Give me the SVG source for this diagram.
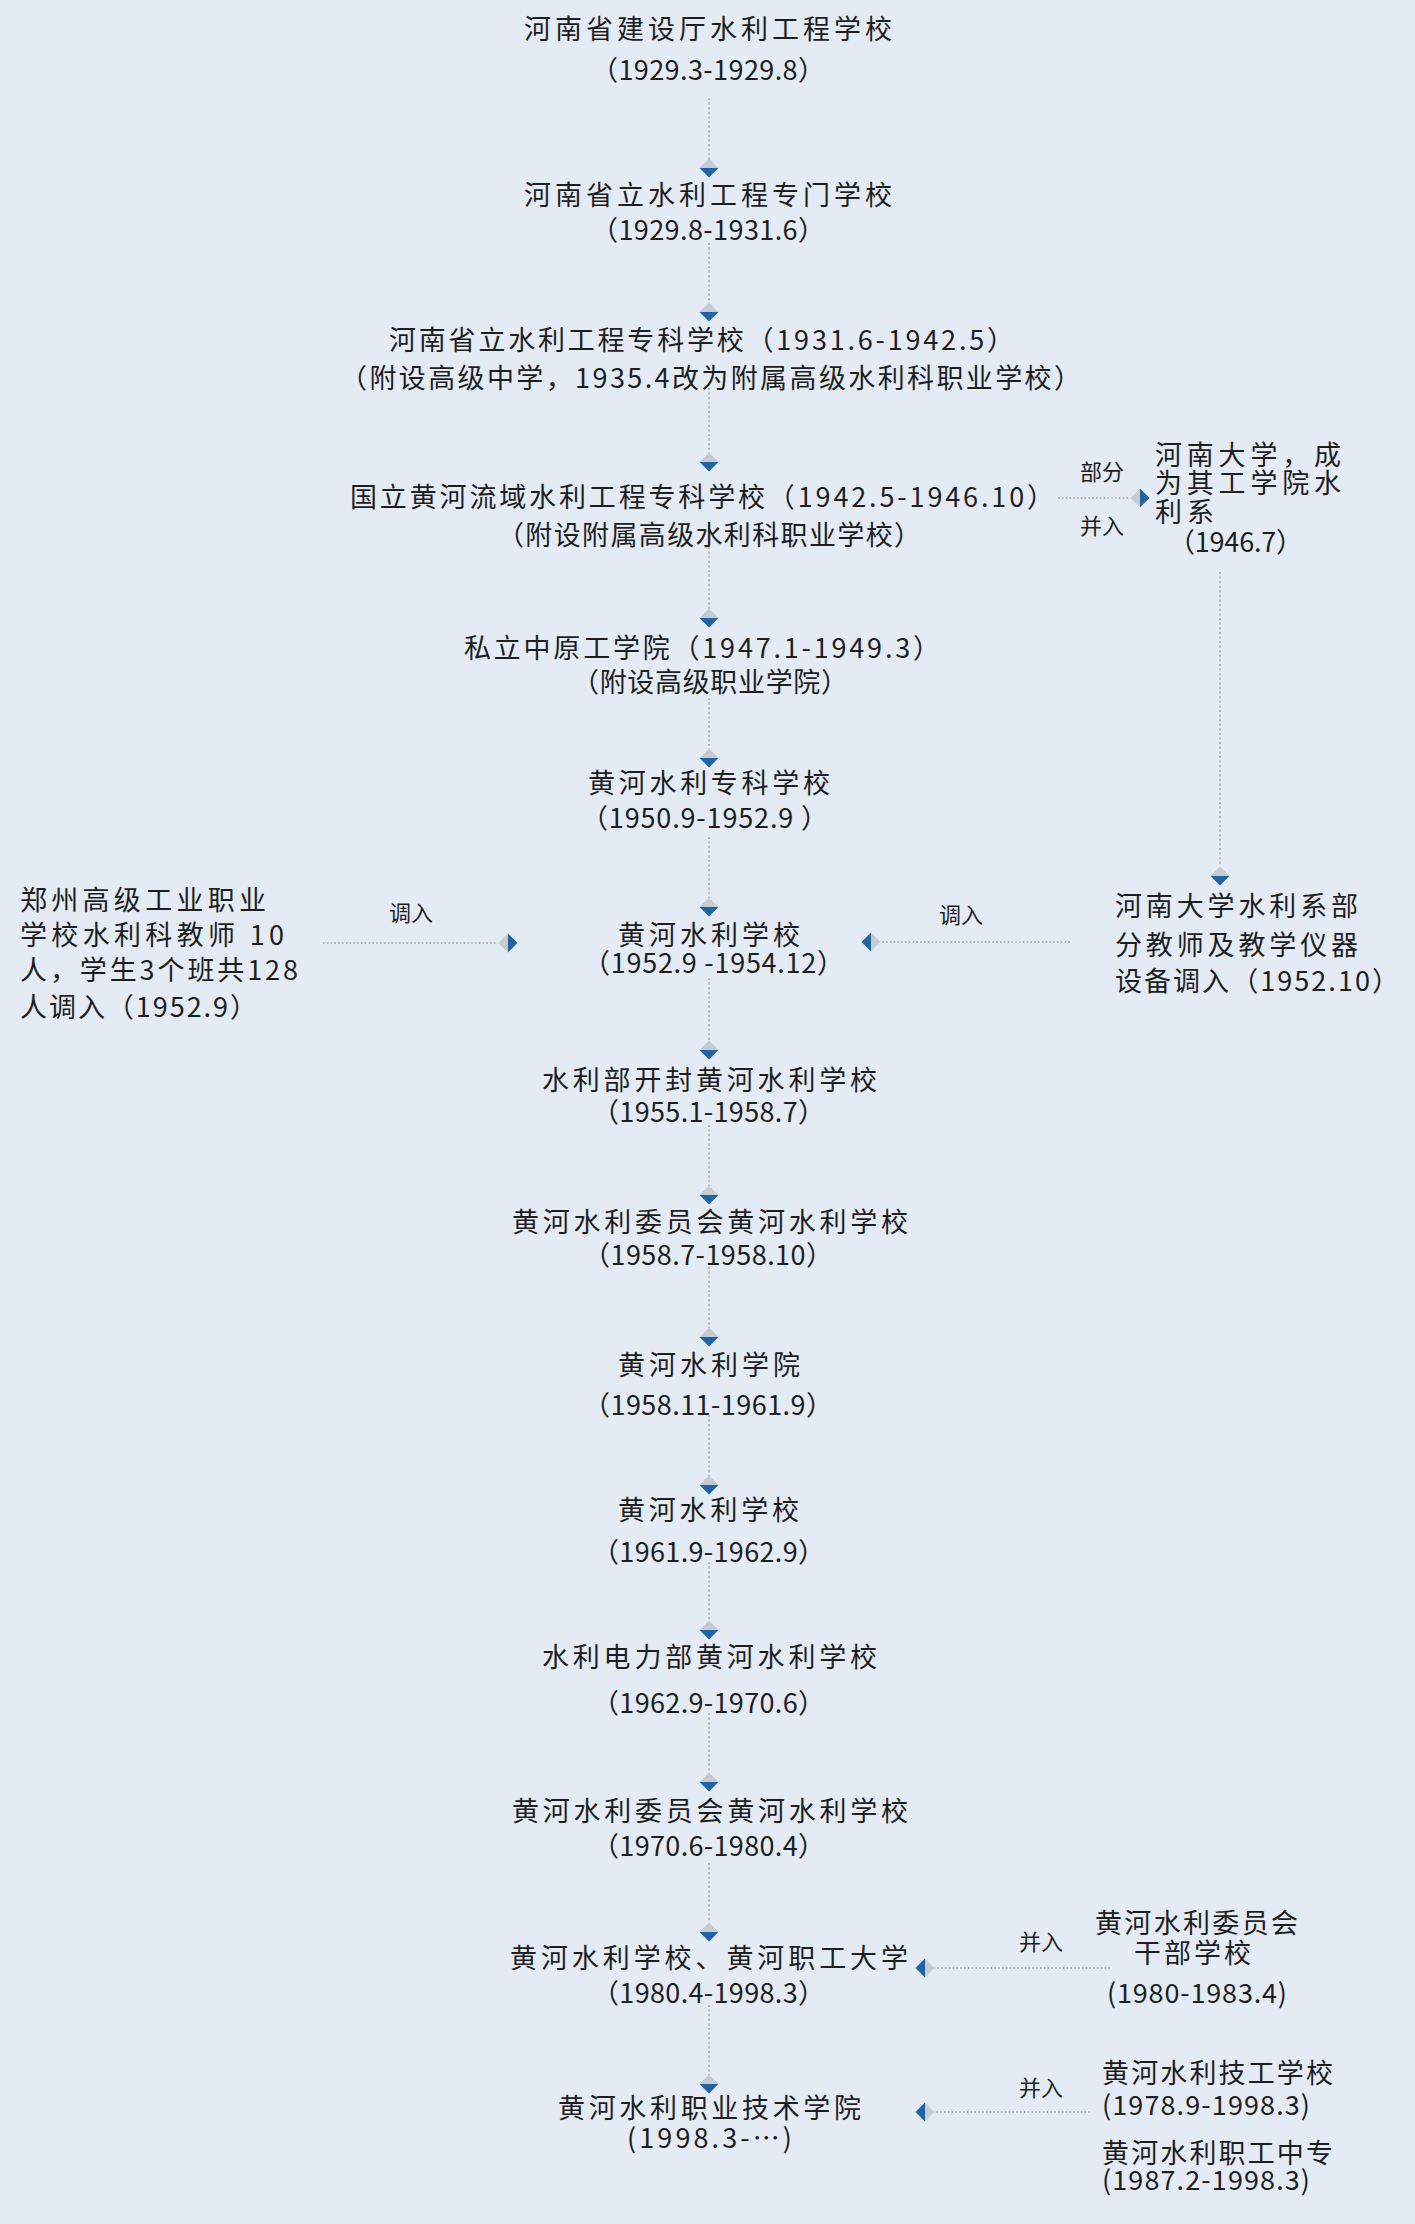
<svg xmlns="http://www.w3.org/2000/svg" xmlns:xlink="http://www.w3.org/1999/xlink" width="1415" height="2224" viewBox="0 0 1415 2224">
<style>
.t{font-family:"Noto Sans CJK SC","Noto Sans",sans-serif;font-size:27px;fill:#1e1e1e;}
.l{font-family:"Noto Sans CJK SC","Noto Sans",sans-serif;font-size:22px;fill:#1e1e1e;text-anchor:middle;}
.v{stroke:#98a1ab;stroke-width:1.4;stroke-dasharray:2 2.6;fill:none;}
.h{stroke:#98a1ab;stroke-width:1.4;stroke-dasharray:1.6 2.2;fill:none;}
</style>
<defs>
<g id="dd">
<polygon points="0,-9.5 9.5,0 -9.5,0" fill="#c5cbd2"/>
<polygon points="-9.5,0 9.5,0 0,9.5" fill="#2064a4"/>
</g>
</defs>
<rect x="0" y="0" width="1415" height="2224" fill="#e4ebf5"/>

<g id="connectors">
<path class="v" d="M709 98V159M709 243V303M709 388V453M709 547V609M709 698V749M709 837V898M709 978V1041M709 1125V1186M709 1267V1328M709 1415V1476M709 1562V1621M709 1713V1773M709 1863V1923M709 2005V2075"/>
<path class="v" d="M1220 572V866"/>
<path class="h" d="M1058 498H1130M323 943H498M1070 942H881M1110 1968H935M1090 2112H935"/>
<use xlink:href="#dd" transform="translate(709,168)"/>
<use xlink:href="#dd" transform="translate(709,312)"/>
<use xlink:href="#dd" transform="translate(709,462)"/>
<use xlink:href="#dd" transform="translate(709,618)"/>
<use xlink:href="#dd" transform="translate(709,758)"/>
<use xlink:href="#dd" transform="translate(709,907)"/>
<use xlink:href="#dd" transform="translate(709,1050)"/>
<use xlink:href="#dd" transform="translate(709,1195)"/>
<use xlink:href="#dd" transform="translate(709,1337)"/>
<use xlink:href="#dd" transform="translate(709,1485)"/>
<use xlink:href="#dd" transform="translate(709,1630)"/>
<use xlink:href="#dd" transform="translate(709,1782)"/>
<use xlink:href="#dd" transform="translate(709,1932)"/>
<use xlink:href="#dd" transform="translate(709,2084)"/>
<use xlink:href="#dd" transform="translate(1220,876)"/>
<use xlink:href="#dd" transform="translate(1140,498) rotate(-90)"/>
<use xlink:href="#dd" transform="translate(508,943) rotate(-90)"/>
<use xlink:href="#dd" transform="translate(871,942) rotate(90)"/>
<use xlink:href="#dd" transform="translate(925,1968) rotate(90)"/>
<use xlink:href="#dd" transform="translate(925,2112) rotate(90)"/>
<text class="l" x="1102" y="480">部分</text>
<text class="l" x="1102" y="534">并入</text>
<text class="l" x="411" y="921">调入</text>
<text class="l" x="961" y="923">调入</text>
<text class="l" x="1041" y="1950">并入</text>
<text class="l" x="1041" y="2096">并入</text>
</g>

<g id="n1">
<text class="t" x="524" y="39" textLength="368" lengthAdjust="spacing">河南省建设厅水利工程学校</text>
<text class="t" x="591" y="80" textLength="234" lengthAdjust="spacing">（1929.3-1929.8）</text>
</g>
<g id="n2">
<text class="t" x="524" y="205" textLength="368" lengthAdjust="spacing">河南省立水利工程专门学校</text>
<text class="t" x="591" y="240" textLength="234" lengthAdjust="spacing">（1929.8-1931.6）</text>
</g>
<g id="n3">
<text class="t" x="389" y="350" textLength="625" lengthAdjust="spacing">河南省立水利工程专科学校（1931.6-1942.5）</text>
<text class="t" x="340" y="388" textLength="741" lengthAdjust="spacing">（附设高级中学，1935.4改为附属高级水利科职业学校）</text>
</g>
<g id="n4">
<text class="t" x="350" y="507" textLength="704" lengthAdjust="spacing">国立黄河流域水利工程专科学校（1942.5-1946.10）</text>
<text class="t" x="497" y="545" textLength="424" lengthAdjust="spacing">（附设附属高级水利科职业学校）</text>
</g>
<g id="n4b">
<text class="t" x="1155" y="465" textLength="186" lengthAdjust="spacing">河南大学，成</text>
<text class="t" x="1155" y="493" textLength="186" lengthAdjust="spacing">为其工学院水</text>
<text class="t" x="1155" y="522" textLength="59" lengthAdjust="spacing">利系</text>
<text class="t" x="1168" y="552" textLength="135" lengthAdjust="spacing">（1946.7）</text>
</g>
<g id="n5">
<text class="t" x="464" y="658" textLength="476" lengthAdjust="spacing">私立中原工学院（1947.1-1949.3）</text>
<text class="t" x="572" y="692" textLength="276" lengthAdjust="spacing">（附设高级职业学院）</text>
</g>
<g id="n6">
<text class="t" x="588" y="793" textLength="242" lengthAdjust="spacing">黄河水利专科学校</text>
<text class="t" x="581" y="828" textLength="247" lengthAdjust="spacing">（1950.9-1952.9 ）</text>
</g>
<g id="n7">
<text class="t" x="618" y="945" textLength="182" lengthAdjust="spacing">黄河水利学校</text>
<text class="t" x="583" y="973" textLength="261" lengthAdjust="spacing">（1952.9 -1954.12）</text>
</g>
<g id="n7a">
<text class="t" x="20" y="910" textLength="246" lengthAdjust="spacing">郑州高级工业职业</text>
<text class="t" x="20" y="945" textLength="264" lengthAdjust="spacing">学校水利科教师 10</text>
<text class="t" x="20" y="980" textLength="278" lengthAdjust="spacing">人，学生3个班共128</text>
<text class="t" x="20" y="1017" textLength="237" lengthAdjust="spacing">人调入（1952.9）</text>
</g>
<g id="n7b">
<text class="t" x="1115" y="916" textLength="243" lengthAdjust="spacing">河南大学水利系部</text>
<text class="t" x="1115" y="955" textLength="243" lengthAdjust="spacing">分教师及教学仪器</text>
<text class="t" x="1115" y="991" textLength="284" lengthAdjust="spacing">设备调入（1952.10）</text>
</g>
<g id="n8">
<text class="t" x="542" y="1090" textLength="335" lengthAdjust="spacing">水利部开封黄河水利学校</text>
<text class="t" x="592" y="1122" textLength="233" lengthAdjust="spacing">（1955.1-1958.7）</text>
</g>
<g id="n9">
<text class="t" x="512" y="1232" textLength="396" lengthAdjust="spacing">黄河水利委员会黄河水利学校</text>
<text class="t" x="583" y="1265" textLength="250" lengthAdjust="spacing">（1958.7-1958.10）</text>
</g>
<g id="n10">
<text class="t" x="618" y="1375" textLength="182" lengthAdjust="spacing">黄河水利学院</text>
<text class="t" x="583" y="1415" textLength="250" lengthAdjust="spacing">（1958.11-1961.9）</text>
</g>
<g id="n11">
<text class="t" x="618" y="1520" textLength="181" lengthAdjust="spacing">黄河水利学校</text>
<text class="t" x="592" y="1562" textLength="233" lengthAdjust="spacing">（1961.9-1962.9）</text>
</g>
<g id="n12">
<text class="t" x="542" y="1667" textLength="335" lengthAdjust="spacing">水利电力部黄河水利学校</text>
<text class="t" x="592" y="1713" textLength="233" lengthAdjust="spacing">（1962.9-1970.6）</text>
</g>
<g id="n13">
<text class="t" x="512" y="1821" textLength="396" lengthAdjust="spacing">黄河水利委员会黄河水利学校</text>
<text class="t" x="592" y="1856" textLength="233" lengthAdjust="spacing">（1970.6-1980.4）</text>
</g>
<g id="n14">
<text class="t" x="510" y="1968" textLength="398" lengthAdjust="spacing">黄河水利学校、黄河职工大学</text>
<text class="t" x="592" y="2003" textLength="233" lengthAdjust="spacing">（1980.4-1998.3）</text>
</g>
<g id="n14b">
<text class="t" x="1095" y="1933" textLength="203" lengthAdjust="spacing">黄河水利委员会</text>
<text class="t" x="1134" y="1963" textLength="117" lengthAdjust="spacing">干部学校</text>
<text class="t" x="1107" y="2003" textLength="180" lengthAdjust="spacing">(1980-1983.4)</text>
</g>
<g id="n15">
<text class="t" x="558" y="2118" textLength="303" lengthAdjust="spacing">黄河水利职业技术学院</text>
<text class="t" x="627" y="2148" textLength="165" lengthAdjust="spacing">(1998.3-…)</text>
</g>
<g id="n15b">
<text class="t" x="1102" y="2083" textLength="231" lengthAdjust="spacing">黄河水利技工学校</text>
<text class="t" x="1102" y="2115" textLength="208" lengthAdjust="spacing">(1978.9-1998.3)</text>
<text class="t" x="1102" y="2163" textLength="231" lengthAdjust="spacing">黄河水利职工中专</text>
<text class="t" x="1102" y="2190" textLength="208" lengthAdjust="spacing">(1987.2-1998.3)</text>
</g>
</svg>
